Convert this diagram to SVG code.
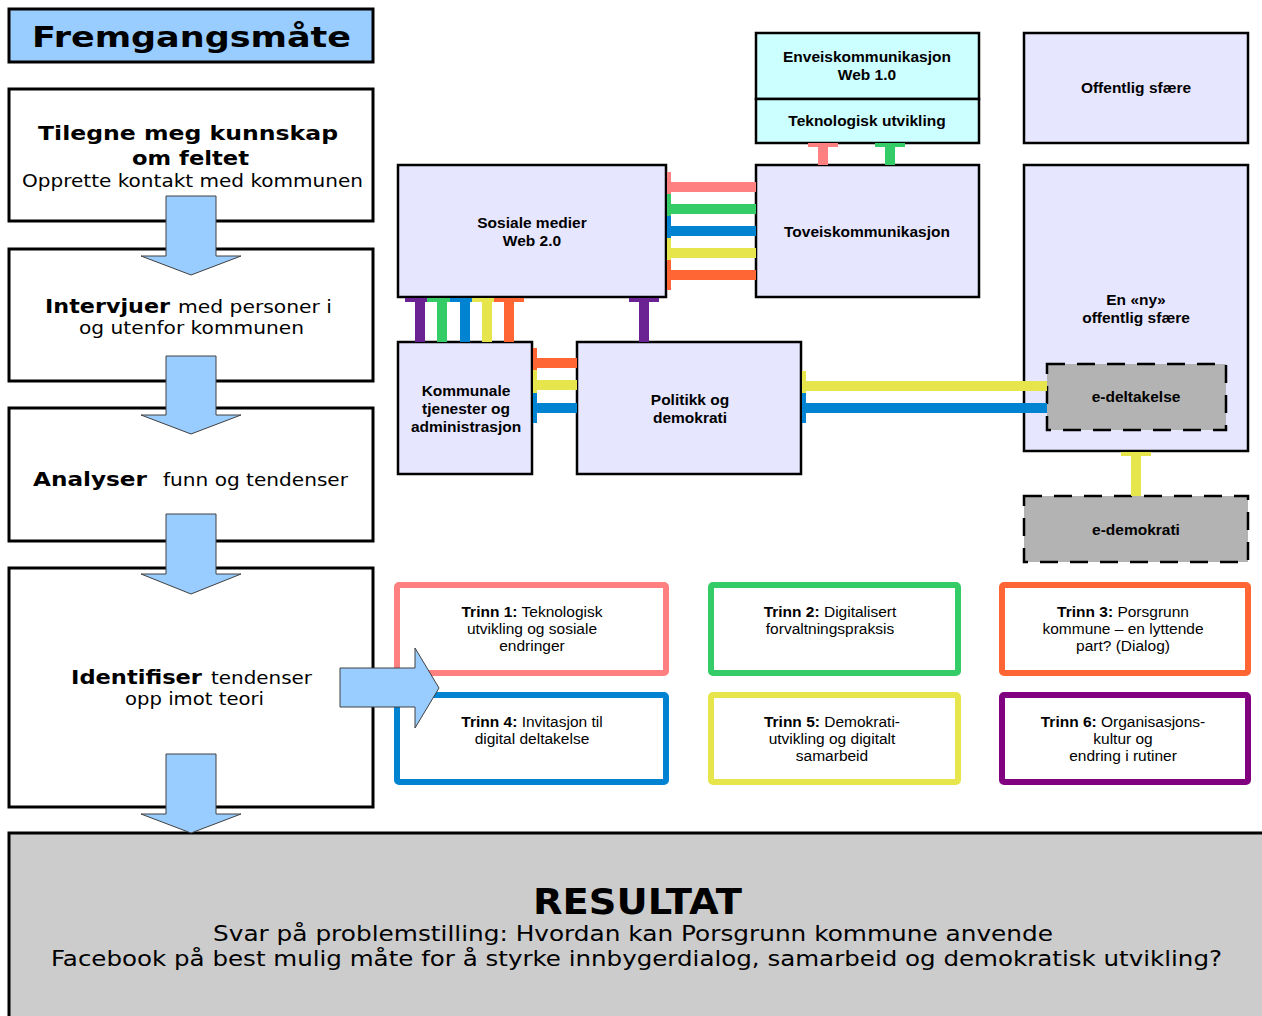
<svg xmlns="http://www.w3.org/2000/svg" width="1262" height="1016" viewBox="0 0 1262 1016">
<style>
.step{fill:#ffffff;stroke:#000;stroke-width:3}
.arr{fill:#99ccff;stroke:#404040;stroke-width:1}
.dv{font-family:"DejaVu Sans",Verdana,sans-serif;fill:#000}
.b{font-weight:bold}
.node{fill:#e6e6ff;stroke:#000;stroke-width:2.5}
.cyan{fill:#ccffff;stroke:#000;stroke-width:2.5}
.dash{fill:#b3b3b3;stroke:#000;stroke-width:2.5;stroke-dasharray:18 12}
.ar{font-family:"Liberation Sans",Arial,sans-serif;font-size:15.5px;fill:#000;text-anchor:middle}
.trinn{fill:#fff;stroke-width:6}
.pk{fill:#ff8080}.gr{fill:#33cc66}.bl{fill:#0084d1}.ye{fill:#e6e64c}.or{fill:#ff6633}.pu{fill:#6b2394}
</style>

<g id="title">
<rect x="9" y="9" width="364" height="53" fill="#99ccff" stroke="#000" stroke-width="3"/>
<text class="dv b" x="32" y="47" font-size="29" textLength="319" lengthAdjust="spacingAndGlyphs">Fremgangsmåte</text>
</g>

<g id="resultat">
<rect x="9" y="833" width="1262" height="190" fill="#cccccc" stroke="#000" stroke-width="3"/>
<text class="dv b" x="533" y="914" font-size="35" textLength="209" lengthAdjust="spacingAndGlyphs">RESULTAT</text>
<text class="dv" x="213" y="941" font-size="21" textLength="840" lengthAdjust="spacingAndGlyphs">Svar på problemstilling: Hvordan kan Porsgrunn kommune anvende</text>
<text class="dv" x="51" y="966" font-size="21" textLength="1171" lengthAdjust="spacingAndGlyphs">Facebook på best mulig måte for å styrke innbygerdialog, samarbeid og demokratisk utvikling?</text>
</g>

<g id="step1">
<rect class="step" x="9" y="89" width="364" height="132"/>
<text class="dv b" x="38" y="140" font-size="20" textLength="300" lengthAdjust="spacingAndGlyphs">Tilegne meg kunnskap</text>
<text class="dv b" x="132" y="165" font-size="20" textLength="117" lengthAdjust="spacingAndGlyphs">om feltet</text>
<text class="dv" x="22" y="187" font-size="17" textLength="341" lengthAdjust="spacingAndGlyphs">Opprette kontakt med kommunen</text>
</g>

<g id="step2">
<rect class="step" x="9" y="249" width="364" height="132"/>
<text class="dv b" x="45" y="313" font-size="20" textLength="125" lengthAdjust="spacingAndGlyphs">Intervjuer</text>
<text class="dv" x="178" y="313" font-size="17" textLength="154" lengthAdjust="spacingAndGlyphs">med personer i</text>
<text class="dv" x="79" y="334" font-size="17" textLength="225" lengthAdjust="spacingAndGlyphs">og utenfor kommunen</text>
</g>

<g id="step3">
<rect class="step" x="9" y="408" width="364" height="133"/>
<text class="dv b" x="33" y="486" font-size="20" textLength="114" lengthAdjust="spacingAndGlyphs">Analyser</text>
<text class="dv" x="163" y="486" font-size="17" textLength="185" lengthAdjust="spacingAndGlyphs">funn og tendenser</text>
</g>

<g id="step4">
<rect class="step" x="9" y="568" width="364" height="239"/>
<text class="dv b" x="71" y="684" font-size="20" textLength="131" lengthAdjust="spacingAndGlyphs">Identifiser</text>
<text class="dv" x="211" y="684" font-size="17" textLength="101" lengthAdjust="spacingAndGlyphs">tendenser</text>
<text class="dv" x="125" y="705" font-size="17" textLength="139" lengthAdjust="spacingAndGlyphs">opp imot teori</text>
</g>

<g id="flow-arrows">
<polygon class="arr" points="166,196 216,196 216,256 241,256 191,275 141,256 166,256"/>
<polygon class="arr" points="166,356 216,356 216,415 241,415 191,434 141,415 166,415"/>
<polygon class="arr" points="166,514 216,514 216,574 241,574 191,594 141,574 166,574"/>
<polygon class="arr" points="166,754 216,754 216,814 241,814 191,833 141,814 166,814"/>
</g>

<g id="enveis">
<rect class="cyan" x="756" y="33" width="223" height="66"/>
<text class="ar b" x="867" y="62">Enveiskommunikasjon</text>
<text class="ar b" x="867" y="80">Web 1.0</text>
</g>
<g id="teknologisk">
<rect class="cyan" x="756" y="99" width="223" height="44"/>
<text class="ar b" x="867" y="126">Teknologisk utvikling</text>
</g>
<g id="offentlig">
<rect class="node" x="1024" y="33" width="224" height="110"/>
<text class="ar b" x="1136" y="93">Offentlig sfære</text>
</g>
<g id="sosiale">
<rect class="node" x="398" y="165" width="268" height="132"/>
<text class="ar b" x="532" y="228">Sosiale medier</text>
<text class="ar b" x="532" y="246">Web 2.0</text>
</g>
<g id="toveis">
<rect class="node" x="756" y="165" width="223" height="132"/>
<text class="ar b" x="867" y="237">Toveiskommunikasjon</text>
</g>
<g id="nyoffentlig">
<rect class="node" x="1024" y="165" width="224" height="286"/>
<text class="ar b" x="1136" y="305">En «ny»</text>
<text class="ar b" x="1136" y="323">offentlig sfære</text>
</g>
<g id="edeltakelse">
<rect class="dash" x="1047" y="364" width="179" height="66"/>
<text class="ar b" x="1136" y="402">e-deltakelse</text>
</g>
<g id="edemokrati">
<rect class="dash" x="1024" y="496" width="224" height="66"/>
<text class="ar b" x="1136" y="535">e-demokrati</text>
</g>
<g id="kommunale">
<rect class="node" x="398" y="342" width="134" height="132"/>
<text class="ar b" x="466" y="396">Kommunale</text>
<text class="ar b" x="466" y="414">tjenester og</text>
<text class="ar b" x="466" y="432">administrasjon</text>
</g>
<g id="politikk">
<rect class="node" x="577" y="342" width="224" height="132"/>
<text class="ar b" x="690" y="405">Politikk og</text>
<text class="ar b" x="690" y="423">demokrati</text>
</g>

<g id="connectors">
<rect class="pk" x="818" y="143" width="10" height="22"/><rect class="pk" x="808" y="143" width="30" height="4"/>
<rect class="gr" x="885" y="143" width="10" height="22"/><rect class="gr" x="875" y="143" width="30" height="4"/>
<rect class="pk" x="667" y="182" width="89" height="10"/><rect class="pk" x="667" y="172" width="4" height="30"/>
<rect class="gr" x="667" y="204" width="89" height="10"/><rect class="gr" x="667" y="194" width="4" height="30"/>
<rect class="bl" x="667" y="226" width="89" height="10"/><rect class="bl" x="667" y="216" width="4" height="30"/>
<rect class="ye" x="667" y="248" width="89" height="10"/><rect class="ye" x="667" y="238" width="4" height="30"/>
<rect class="or" x="667" y="270" width="89" height="10"/><rect class="or" x="667" y="260" width="4" height="30"/>
<rect class="pu" x="415" y="298" width="10" height="44"/><rect class="pu" x="405" y="298" width="30" height="4"/>
<rect class="gr" x="437" y="298" width="10" height="44"/><rect class="gr" x="427" y="298" width="30" height="4"/>
<rect class="bl" x="460" y="298" width="10" height="44"/><rect class="bl" x="450" y="298" width="30" height="4"/>
<rect class="ye" x="482" y="298" width="10" height="44"/><rect class="ye" x="472" y="298" width="30" height="4"/>
<rect class="or" x="504" y="298" width="10" height="44"/><rect class="or" x="494" y="298" width="30" height="4"/>
<rect class="pu" x="639" y="298" width="10" height="44"/><rect class="pu" x="629" y="298" width="30" height="4"/>
<rect class="or" x="533" y="358" width="44" height="10"/><rect class="or" x="533" y="348" width="4" height="30"/>
<rect class="ye" x="533" y="380" width="44" height="10"/><rect class="ye" x="533" y="370" width="4" height="30"/>
<rect class="bl" x="533" y="403" width="44" height="10"/><rect class="bl" x="533" y="393" width="4" height="30"/>
<rect class="ye" x="802" y="381" width="245" height="10"/><rect class="ye" x="802" y="371" width="4" height="30"/>
<rect class="bl" x="802" y="403" width="245" height="10"/><rect class="bl" x="802" y="393" width="4" height="30"/>
<rect class="ye" x="1131" y="452" width="10" height="44"/><rect class="ye" x="1121" y="452" width="30" height="4"/>
</g>

<g id="trinn1">
<rect class="trinn" x="397" y="585" width="269" height="88" rx="2" stroke="#ff8080"/>
<text class="ar" x="532" y="617"><tspan font-weight="bold">Trinn 1:</tspan> Teknologisk</text>
<text class="ar" x="532" y="634">utvikling og sosiale</text>
<text class="ar" x="532" y="651">endringer</text>
</g>
<g id="trinn4">
<rect class="trinn" x="397" y="695" width="269" height="87" rx="2" stroke="#0084d1"/>
<text class="ar" x="532" y="727"><tspan font-weight="bold">Trinn 4:</tspan> Invitasjon til</text>
<text class="ar" x="532" y="744">digital deltakelse</text>
</g>
<g id="trinn2">
<rect class="trinn" x="711" y="585" width="247" height="88" rx="2" stroke="#33cc66"/>
<text class="ar" x="830" y="617"><tspan font-weight="bold">Trinn 2:</tspan> Digitalisert</text>
<text class="ar" x="830" y="634">forvaltningspraksis</text>
</g>
<g id="trinn3">
<rect class="trinn" x="1002" y="585" width="246" height="88" rx="2" stroke="#ff6633"/>
<text class="ar" x="1123" y="617"><tspan font-weight="bold">Trinn 3:</tspan> Porsgrunn</text>
<text class="ar" x="1123" y="634">kommune – en lyttende</text>
<text class="ar" x="1123" y="651">part? (Dialog)</text>
</g>
<g id="trinn5">
<rect class="trinn" x="711" y="695" width="247" height="87" rx="2" stroke="#e6e64c"/>
<text class="ar" x="832" y="727"><tspan font-weight="bold">Trinn 5:</tspan> Demokrati-</text>
<text class="ar" x="832" y="744">utvikling og digitalt</text>
<text class="ar" x="832" y="761">samarbeid</text>
</g>
<g id="trinn6">
<rect class="trinn" x="1002" y="695" width="246" height="87" rx="2" stroke="#800080"/>
<text class="ar" x="1123" y="727"><tspan font-weight="bold">Trinn 6:</tspan> Organisasjons-</text>
<text class="ar" x="1123" y="744">kultur og</text>
<text class="ar" x="1123" y="761">endring i rutiner</text>
</g>

<g id="right-arrow">
<polygon class="arr" points="340,668 415,668 415,648 439,688 415,728 415,707 340,707"/>
</g>
</svg>
